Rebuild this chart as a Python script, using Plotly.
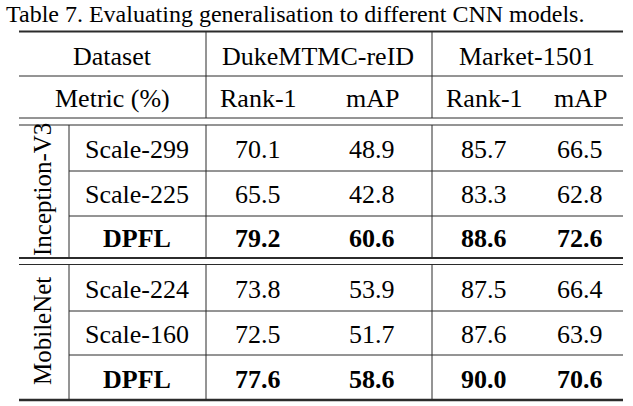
import plotly.graph_objects as go

# table content
title = "Table 7. Evaluating generalisation to different CNN models."
datasets = ["DukeMTMC-reID", "Market-1501"]
metrics = ["Rank-1", "mAP", "Rank-1", "mAP"]
models = ["Inception-V3", "MobileNet"]
methods = [["Scale-299", "Scale-225", "DPFL"], ["Scale-224", "Scale-160", "DPFL"]]
values = [
    [["70.1", "48.9", "85.7", "66.5"],
     ["65.5", "42.8", "83.3", "62.8"],
     ["79.2", "60.6", "88.6", "72.6"]],
    [["73.8", "53.9", "87.5", "66.4"],
     ["72.5", "51.7", "87.6", "63.9"],
     ["77.6", "58.6", "90.0", "70.6"]],
]
bold_row = "DPFL"

# layout (pixel grid)
W, H = 633, 406
FONT = "Liberation Serif, Times New Roman, DejaVu Serif, serif"
FS = 26
LINE = "#2b2b2b"
x_left, x_right = 19, 623
x_model, x_v1, x_v2 = 69, 206, 432
col_x = [258, 372, 484, 580]
ds_x = [318, 527]
row_y = [[149, 194, 238], [289, 334, 379]]
model_y = [190, 331]

fig = go.Figure()
ann = []

def txt(x, y, s, size=FS, angle=0, xanchor="center", bold=False):
    ann.append(dict(x=x, y=y, xref="x", yref="y", text=f"<b>{s}</b>" if bold else s,
                    showarrow=False, textangle=angle, xanchor=xanchor, yanchor="middle",
                    font=dict(family=FONT, size=size, color="black")))

txt(4, 14, title, size=24, xanchor="left")
txt(112, 56, "Dataset")
txt(112, 98, "Metric (%)")
for x, d in zip(ds_x, datasets):
    txt(x, 56, d)
for x, m in zip(col_x, metrics):
    txt(x, 98, m)

for g in range(2):
    txt(42, model_y[g], models[g], size=25, angle=-90)
    for r in range(3):
        b = methods[g][r] == bold_row
        txt(137, row_y[g][r], methods[g][r], bold=b)
        for c in range(4):
            txt(col_x[c], row_y[g][r], values[g][r][c], bold=b)

shapes = []

def hline(y, x0=x_left, x1=x_right, w=1):
    shapes.append(dict(type="line", xref="x", yref="y", x0=x0, x1=x1, y0=y, y1=y,
                       line=dict(color=LINE, width=w)))

def vline(x, y0, y1):
    shapes.append(dict(type="line", xref="x", yref="y", x0=x, x1=x, y0=y0, y1=y1,
                       line=dict(color=LINE, width=1)))

hline(31.5, w=2)
hline(76)
hline(118)
hline(125)
hline(171, x0=x_model)
hline(216, x0=x_model)
hline(258, w=2)
hline(264.5)
hline(311, x0=x_model)
hline(355, x0=x_model)
hline(400, w=2.5)

for x in (x_v1, x_v2):
    vline(x, 31, 118)
    vline(x, 125, 258)
    vline(x, 264.5, 400)
vline(x_model, 125, 258)
vline(x_model, 264.5, 400)

fig.update_layout(
    width=W, height=H,
    margin=dict(l=0, r=0, t=0, b=0),
    paper_bgcolor="white", plot_bgcolor="white",
    xaxis=dict(range=[0, W], visible=False, fixedrange=True),
    yaxis=dict(range=[H, 0], visible=False, fixedrange=True),
    annotations=ann, shapes=shapes,
    showlegend=False,
)
fig.write_html("out.html", config={"displayModeBar": False},
               post_script="document.body.style.margin='0';")
